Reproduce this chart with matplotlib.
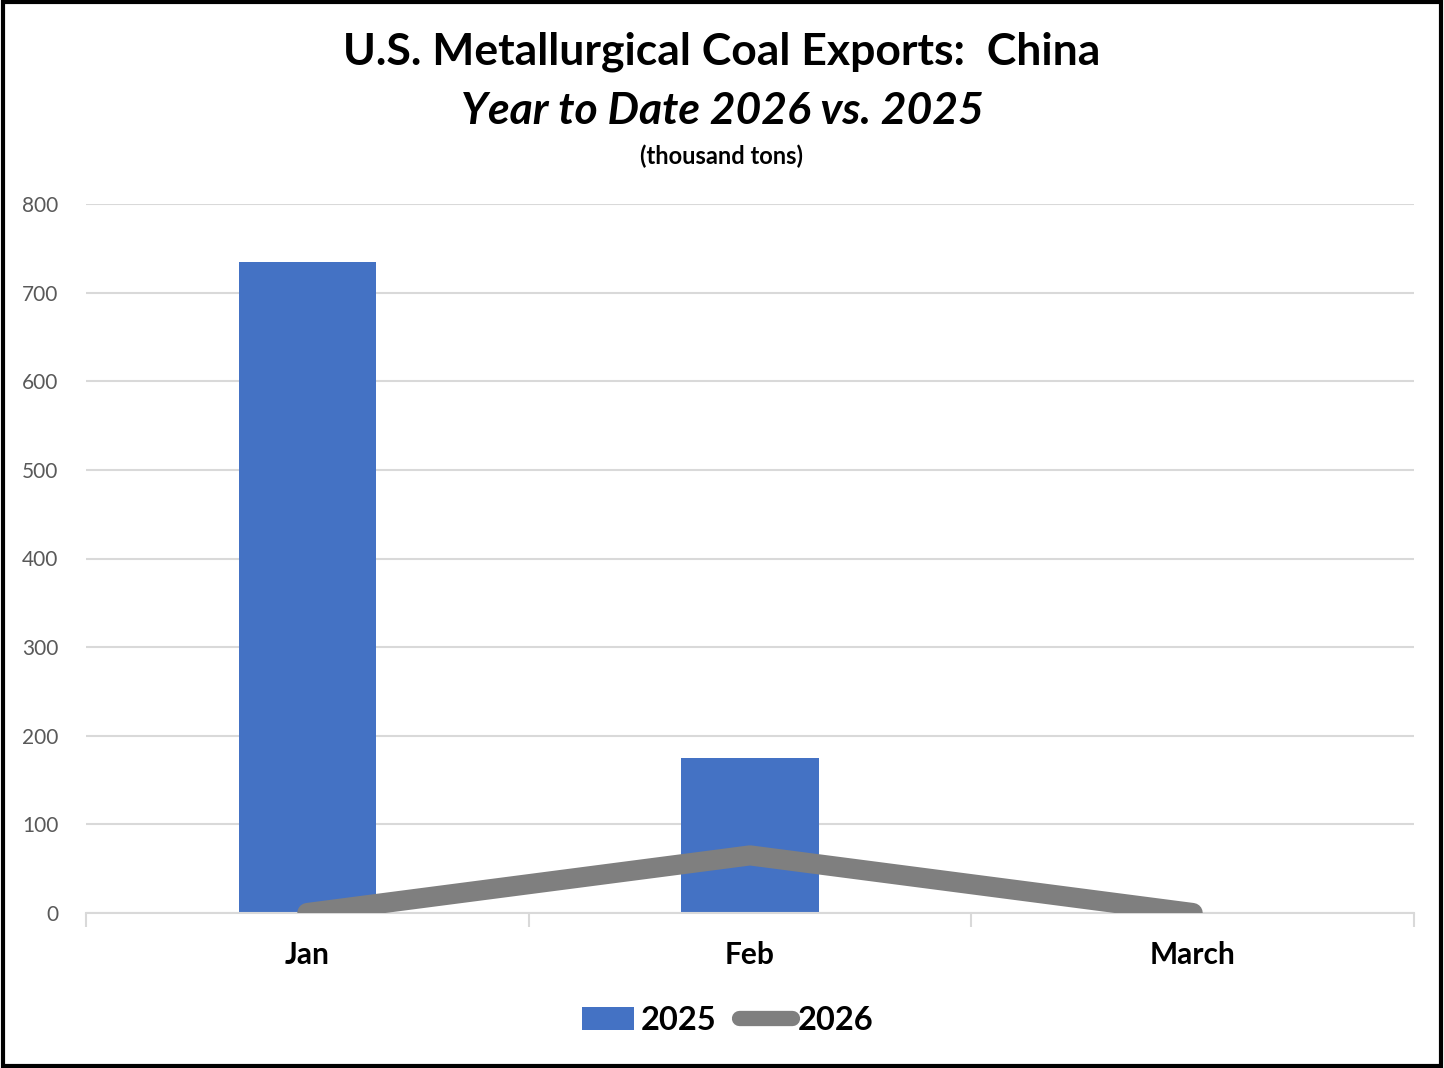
import numpy as np
import matplotlib
matplotlib.use('Agg')
import matplotlib.pyplot as plt
from matplotlib.patches import Patch, Rectangle
from matplotlib.lines import Line2D

plt.rcParams['font.family'] = ['Lato', 'DejaVu Sans']

# data (thousand tons)
months = ['Jan', 'Feb', 'March']
exports_2025 = [734, 175, 0]
exports_2026 = [0, 65, 0]

blue = '#4472C4'
grey = '#7F7F7F'
grid_col = '#D9D9D9'

fig = plt.figure(figsize=(14.44, 10.68), dpi=100)
ax = fig.add_axes([86/1444, 1-913/1068, 1328/1444, 709/1068])

x = np.arange(len(months))
ax.bar(x, exports_2025, width=0.31, color=blue, zorder=2)
ax.plot(x, exports_2026, color=grey, linewidth=14.5, solid_capstyle='round',
        solid_joinstyle='round', zorder=3)

ax.set_xlim(-0.5, 2.5)
ax.set_ylim(0, 800)
ax.set_yticks(range(0, 801, 100))
ax.yaxis.grid(True, color=grid_col, linewidth=1.5, zorder=0)
ax.tick_params(axis='y', length=0, pad=20, labelsize=15, labelcolor='#595959')

# category labels, tick marks between categories
ax.set_xticks(x)
ax.set_xticklabels(months, fontsize=21.5, fontweight='bold')
ax.tick_params(axis='x', which='major', length=0, pad=20)
ax.set_xticks([-0.5, 0.5, 1.5, 2.5], minor=True)
ax.tick_params(axis='x', which='minor', length=10, width=1.5, color=grid_col)

for s in ['top', 'right', 'left']:
    ax.spines[s].set_visible(False)
ax.spines['bottom'].set_color(grid_col)
ax.spines['bottom'].set_linewidth(1.5)

# titles
fig.text(0.5, 1-52/1068, 'U.S. Metallurgical Coal Exports:  China', ha='center', va='center',
         fontsize=32, fontweight='bold')
fig.text(0.5, 1-111/1068, 'Year to Date 2026 vs. 2025', ha='center', va='center',
         fontsize=32, fontweight='bold', style='italic')
fig.text(0.5, 1-156/1068, '(thousand tons)', ha='center', va='center',
         fontsize=17, fontweight='bold')

handles = [Patch(facecolor=blue, edgecolor='none'),
           Line2D([0], [0], color=grey, linewidth=11, solid_capstyle='round')]
leg = fig.legend(handles, ['2025', '2026'], loc='center', ncol=2, frameon=False,
                 bbox_to_anchor=(728/1444, 1-1020/1068), prop={'size': 23.5, 'weight': 'bold'},
                 handlelength=1.6, handleheight=0.7, handletextpad=0.2, columnspacing=0.7)

# outer border
fig.patches.append(Rectangle((0.002, 0.002), 0.996, 0.996, transform=fig.transFigure,
                             fill=False, edgecolor='black', linewidth=3))

fig.savefig('out.png', dpi=100)
